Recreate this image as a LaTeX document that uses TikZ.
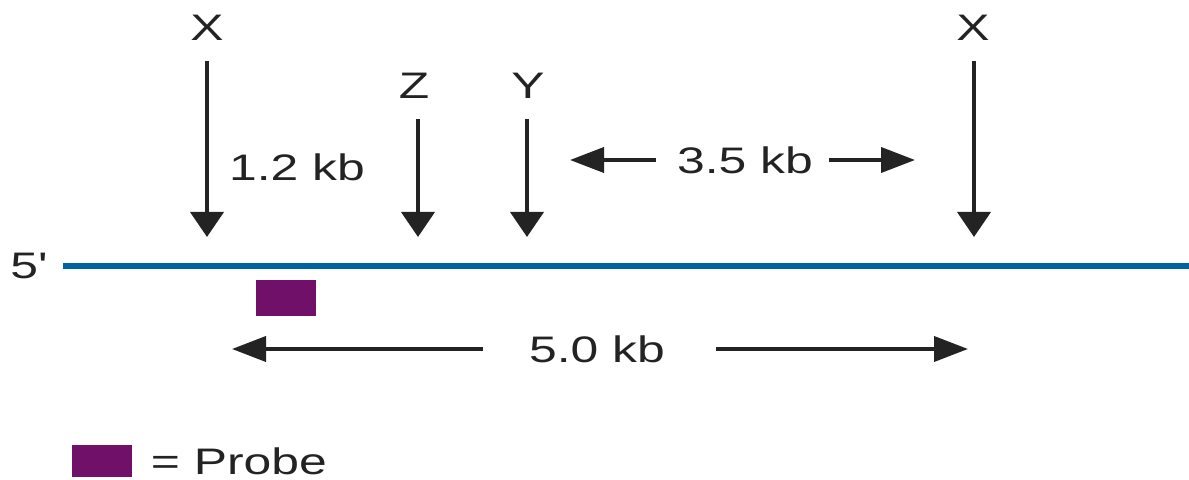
\documentclass[tikz,border=0pt]{standalone}
\usepackage{fontspec}
\setmainfont{Liberation Sans}
\usetikzlibrary{positioning,arrows.meta}
\definecolor{strandblue}{RGB}{0,98,160}
\definecolor{probepurple}{RGB}{112,16,104}
\definecolor{inkgray}{RGB}{35,35,35}

\begin{document}
\begin{tikzpicture}[
    lbl/.style={font=\fontsize{10.5}{12}\selectfont, text=inkgray, inner sep=0pt, xscale=1.35},
    cut/.style={-{Triangle[length=2.5mm,width=3.3mm]}, line width=1.1pt, inkgray, shorten <=2mm},
    span/.style={-{Triangle[length=3.4mm,width=2.5mm]}, line width=1.1pt, inkgray, shorten <=#1},
  ]
  \useasboundingbox (0,0) rectangle (11.89,4.79);
  % brin d'ADN
  \draw[strandblue, line width=1.6pt] (0.63,2.13) coordinate (s0) -- (11.89,2.13) coordinate (s1);
  \node[lbl] (five) at (0.29,2.13) {5\textquotesingle};
  % sites de restriction
  \node[lbl] (xl) at (2.07,4.51) {X};
  \node[lbl] (z) at (4.14,3.93) {Z};
  \node[lbl] (y) at (5.28,3.93) {Y};
  \node[lbl] (xr) at (9.73,4.51) {X};
  \coordinate (xltip) at (2.07,2.42);
  \coordinate (ztip) at (4.18,2.42);
  \coordinate (ytip) at (5.27,2.42);
  \coordinate (xrtip) at (9.74,2.42);
  \draw[cut] (xl) -- (xltip);
  \draw[cut] (z.south -| ztip) -- (ztip);
  \draw[cut] (y.south -| ytip) -- (ytip);
  \draw[cut] (xr.south -| xrtip) -- (xrtip);
  \node[lbl] (d12) at (2.97,3.12) {1.2 kb};
  % distance Y--X
  \node[lbl] (d35) at (7.45,3.19) {3.5 kb};
  \coordinate (d35l) at (5.70,3.19);
  \coordinate (d35r) at (9.15,3.19);
  \draw[span=2mm] (d35) -- (d35l);
  \draw[span=1.5mm] (d35) -- (d35r);
  % sonde
  \node[fill=probepurple, minimum width=6mm, minimum height=3.6mm, inner sep=0pt] (probe) at (2.86,1.81) {};
  % fragment X--X
  \node[lbl] (d50) at (5.97,1.30) {5.0 kb};
  \coordinate (d50l) at (2.32,1.30);
  \coordinate (d50r) at (9.68,1.30);
  \draw[span=4.5mm] (d50) -- (d50l);
  \draw[span=5mm] (d50) -- (d50r);
  % légende
  \node[fill=probepurple, minimum width=6mm, minimum height=3.2mm, inner sep=0pt] (key) at (1.02,0.18) {};
  \node[lbl, anchor=base west] (keytext) at (1.50,0.05) {= Probe};
\end{tikzpicture}
\end{document}
